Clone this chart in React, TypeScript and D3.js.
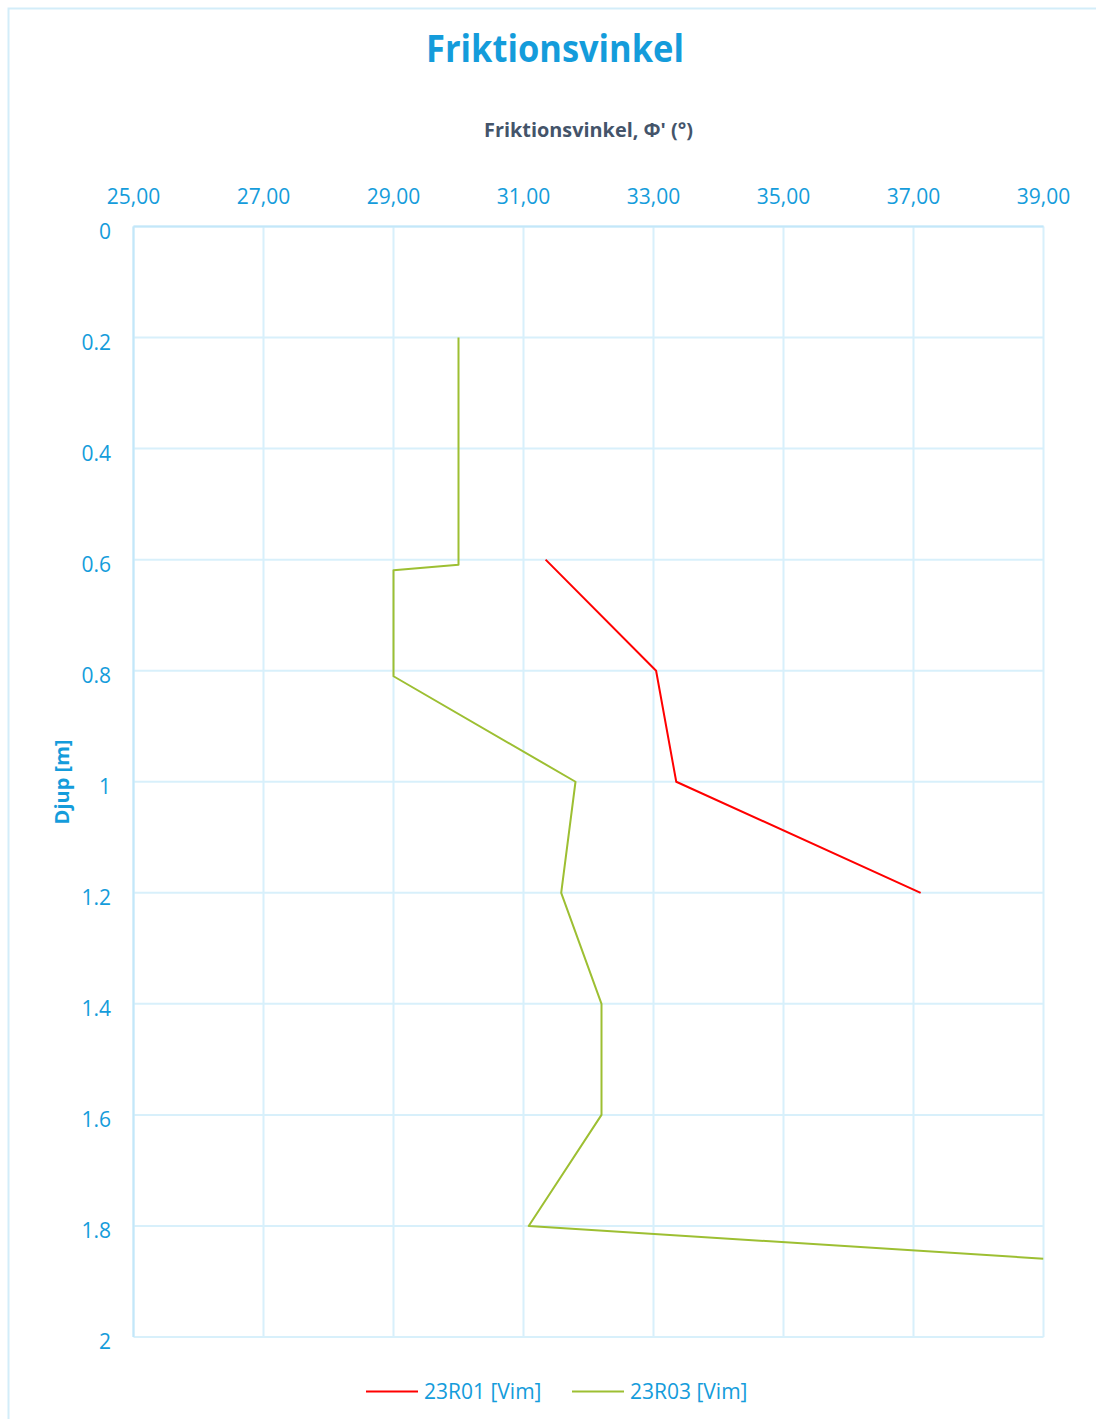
import React from "react";
import * as d3 from "d3";

const xTicks = [25, 27, 29, 31, 33, 35, 37, 39];
const yTicks = [0, 0.2, 0.4, 0.6, 0.8, 1, 1.2, 1.4, 1.6, 1.8, 2];

const r01Angle = [31.34, 33.04, 33.35, 37.11];
const r01Depth = [0.6, 0.8, 1.0, 1.2];

const r03Angle = [30.0, 30.0, 29.0, 29.0, 31.8, 31.58, 32.2, 32.2, 31.08, 39.0];
const r03Depth = [0.2, 0.609, 0.619, 0.81, 1.0, 1.2, 1.4, 1.6, 1.8, 1.859];

const seriesNames = ["23R01 [Vim]", "23R03 [Vim]"];
const seriesColors = ["#ff0000", "#9dbf32"];

const W = 1096;
const H = 1419;
const left = 133.5;
const right = 1043.5;
const top = 226.5;
const bottom = 1337;

const FONT = "'Open Sans', 'Noto Sans', sans-serif";
const BLUE = "#149cdb";

export default function App() {
  const x = d3.scaleLinear().domain([25, 39]).range([left, right]);
  const y = d3.scaleLinear().domain([0, 2]).range([top, bottom]);

  const line = d3
    .line<[number, number]>()
    .x((d) => x(d[0]))
    .y((d) => y(d[1]));

  const r01 = r01Angle.map((a, i) => [a, r01Depth[i]] as [number, number]);
  const r03 = r03Angle.map((a, i) => [a, r03Depth[i]] as [number, number]);
  const series = [r01, r03];

  const legendX = [366, 572];

  return (
    <svg
      width={W}
      height={H}
      style={{ position: "absolute", left: 0, top: 0, background: "#fff" }}
      fontFamily={FONT}
    >
      <defs>
        <clipPath id="plotClip">
          <rect x={left} y={top} width={right - left} height={bottom - top} />
        </clipPath>
      </defs>
      {/* outer chart border */}
      <rect x={8.5} y={8.5} width={W + 20} height={H + 20} fill="none" stroke="#d3edf9" strokeWidth={2} />

      {/* title */}
      <text
        x={555}
        y={62}
        textAnchor="middle"
        fontSize={38}
        fontWeight={700}
        fill={BLUE}
        textLength={258}
        lengthAdjust="spacingAndGlyphs"
      >
        Friktionsvinkel
      </text>
      <text
        x={588.5}
        y={137}
        textAnchor="middle"
        fontSize={19}
        fontWeight={700}
        fill="#44546a"
        textLength={209}
        lengthAdjust="spacingAndGlyphs"
      >
        Friktionsvinkel, Φ' (°)
      </text>

      {/* gridlines */}
      {xTicks.map((t) => (
        <line key={"gx" + t} x1={x(t)} x2={x(t)} y1={top} y2={bottom} stroke="#d8f0fb" strokeWidth={2} />
      ))}
      {yTicks.map((t) => (
        <line key={"gy" + t} x1={left} x2={right} y1={y(t)} y2={y(t)} stroke="#d8f0fb" strokeWidth={2} />
      ))}
      {/* axis lines */}
      <line x1={left} x2={left} y1={top} y2={bottom} stroke="#c3e7f9" strokeWidth={2} />
      <line x1={left} x2={right} y1={top} y2={top} stroke="#c3e7f9" strokeWidth={2} />

      {/* tick labels */}
      {xTicks.map((t) => (
        <text key={"tx" + t} x={x(t)} y={204} textAnchor="middle" fontSize={21} fill={BLUE}>
          {t.toFixed(2).replace(".", ",")}
        </text>
      ))}
      {yTicks.map((t) => (
        <text key={"ty" + t} x={111} y={y(t) + 12} textAnchor="end" fontSize={21} fill={BLUE}>
          {String(t)}
        </text>
      ))}

      {/* y axis title */}
      <text
        transform={`translate(69,782) rotate(-90)`}
        textAnchor="middle"
        fontSize={20}
        fontWeight={700}
        fill={BLUE}
      >
        Djup [m]
      </text>

      {/* series */}
      <g clipPath="url(#plotClip)">
        {series.map((s, i) => (
          <path key={"s" + i} d={line(s) || ""} fill="none" stroke={seriesColors[i]} strokeWidth={2} strokeLinejoin="round" />
        ))}
      </g>

      {/* legend */}
      {seriesNames.map((n, i) => (
        <g key={"lg" + i}>
          <line x1={legendX[i]} x2={legendX[i] + 52} y1={1391.5} y2={1391.5} stroke={seriesColors[i]} strokeWidth={2} />
          <text x={legendX[i] + 58} y={1398.5} fontSize={21} fill={BLUE}>
            {n}
          </text>
        </g>
      ))}
    </svg>
  );
}
